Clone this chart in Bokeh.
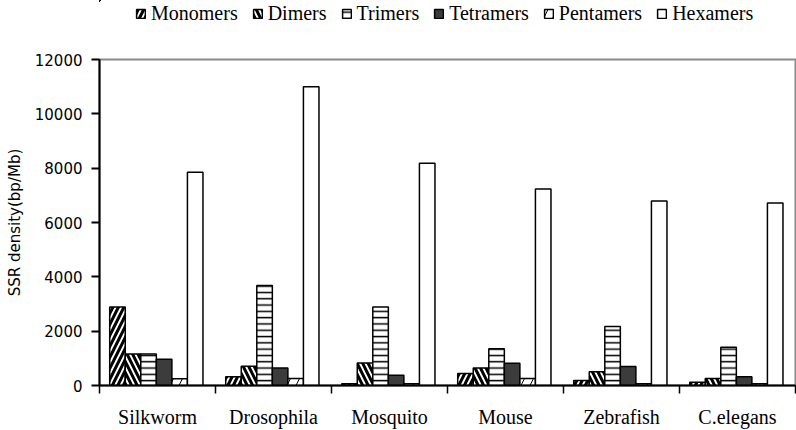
from bokeh.plotting import figure
from bokeh.models import ColumnDataSource, Range1d, FixedTicker, Legend, LegendItem
from bokeh.transform import dodge
from bokeh.layouts import column
from bokeh.embed import file_html
from bokeh.resources import INLINE

species = ["Silkworm", "Drosophila", "Mosquito", "Mouse", "Zebrafish", "C.elegans"]
monomers = [2890, 320, 60, 440, 180, 120]
dimers = [1160, 710, 830, 640, 510, 260]
trimers = [1160, 3680, 2890, 1350, 2170, 1410]
tetramers = [970, 640, 380, 820, 700, 320]
pentamers = [250, 260, 60, 260, 60, 60]
hexamers = [7850, 11000, 8180, 7230, 6790, 6720]
y_ticks = [0, 2000, 4000, 6000, 8000, 10000, 12000]

xs = [i + 0.5 for i in range(len(species))]
source = ColumnDataSource(dict(x=xs, monomers=monomers, dimers=dimers, trimers=trimers,
                               tetramers=tetramers, pentamers=pentamers, hexamers=hexamers))

p = figure(width=796, height=400, output_backend="svg", toolbar_location=None,
           x_range=Range1d(0, len(species)), y_range=Range1d(0, 12000),
           min_border_left=99, min_border_right=1, min_border_top=29, min_border_bottom=44)
p.grid.visible = False
p.outline_line_color = "#8a8a8a"
p.outline_line_width = 2
p.background_fill_color = "white"
p.border_fill_color = "white"

# legend strip (its own small figure; the proxy bars lie far outside its view)
lg = figure(width=796, height=30, output_backend="svg", toolbar_location=None,
            x_range=Range1d(1000, 1001), y_range=Range1d(-100000, -99999),
            x_axis_type=None, y_axis_type=None,
            min_border_left=0, min_border_right=0, min_border_top=0, min_border_bottom=0)
lg.grid.visible = False
lg.outline_line_color = None
lg.background_fill_color = "white"
lg.border_fill_color = "white"

w = 0.134
styles = [
    ("Monomers", "monomers", dict(fill_color="white", hatch_pattern="/", hatch_color="black", hatch_weight=3, hatch_scale=11)),
    ("Dimers", "dimers", dict(fill_color="white", hatch_pattern="\\", hatch_color="black", hatch_weight=3, hatch_scale=11)),
    ("Trimers", "trimers", dict(fill_color="white", hatch_pattern="-", hatch_color="black", hatch_weight=1.5, hatch_scale=6.3)),
    ("Tetramers", "tetramers", dict(fill_color="#3c3c3c")),
    ("Pentamers", "pentamers", dict(fill_color="white", hatch_pattern="/", hatch_color="black", hatch_weight=1, hatch_scale=18)),
    ("Hexamers", "hexamers", dict(fill_color="white")),
]
items = []
for k, (label, col, st) in enumerate(styles):
    off = -0.01 + (k - 2.5) * w
    p.vbar(x=dodge("x", off, range=p.x_range), top=col, width=w, source=source,
           line_color="black", line_width=1.5, **st)
    proxy = lg.vbar(x=dodge("x", off, range=lg.x_range), top=col, width=w, source=source,
                    line_color="black", line_width=1.5, **st)
    items.append(LegendItem(label=label, renderers=[proxy]))

legend = Legend(items=items, orientation="horizontal", location=(36, 5),
                border_line_color=None, background_fill_alpha=0,
                label_text_font="Liberation Serif", label_text_font_size="20px",
                label_text_color="black",
                glyph_width=11, glyph_height=11, spacing=14, label_standoff=5,
                padding=0, margin=0)
lg.add_layout(legend)

# y axis
ya = p.yaxis[0]
ya.ticker = FixedTicker(ticks=y_ticks)
ya.axis_line_color = "black"
ya.axis_line_width = 2
ya.major_tick_line_width = 2
ya.major_tick_out = 8
ya.major_tick_in = 0
ya.minor_tick_line_color = None
ya.major_label_text_font = "DejaVu Sans"
ya.major_label_text_font_size = "15px"
ya.major_label_text_color = "black"
ya.major_label_standoff = 9
ya.axis_label = "SSR density(bp/Mb)"
ya.axis_label_text_font = "DejaVu Sans"
ya.axis_label_text_font_size = "15px"
ya.axis_label_text_font_style = "normal"
ya.axis_label_text_color = "black"
ya.axis_label_standoff = 8

# x axis
xa = p.xaxis[0]
xa.ticker = FixedTicker(ticks=xs, minor_ticks=list(range(len(species) + 1)))
xa.major_label_overrides = {float(x): s for x, s in zip(xs, species)}
xa.axis_line_color = "black"
xa.axis_line_width = 2
xa.major_tick_line_color = None
xa.major_tick_out = 0
xa.major_tick_in = 0
xa.minor_tick_line_color = "black"
xa.minor_tick_line_width = 1.5
xa.minor_tick_out = 8
xa.minor_tick_in = 0
xa.major_label_text_font = "Liberation Serif"
xa.major_label_text_font_size = "20px"
xa.major_label_text_color = "black"
xa.major_label_standoff = 12

open("out.html", "w").write(file_html(column(lg, p, spacing=0), INLINE))
